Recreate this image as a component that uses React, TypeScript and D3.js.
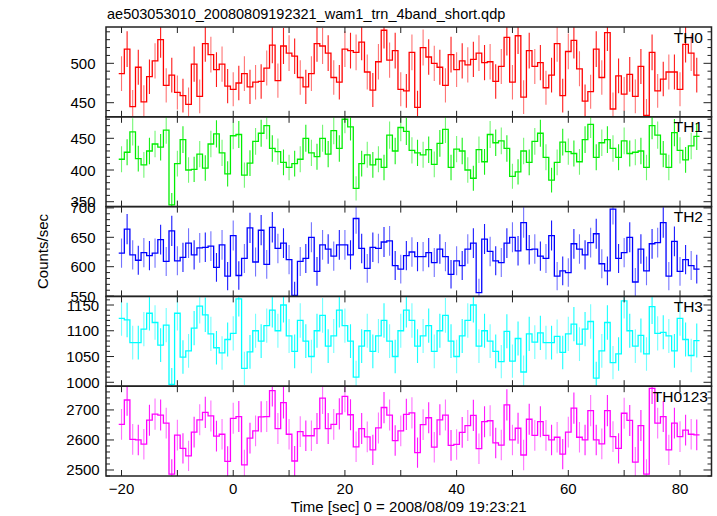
import React from "react";
import * as d3 from "d3";

const W = 717;
const H = 516;
const title = "ae503053010_20080809192321_wam1_trn_4band_short.qdp";
const xLabel = "Time [sec] 0 = 2008/08/09 19:23:21";
const yLabel = "Counts/sec";

// bin centers (1 s bins)
const binCenters = d3.range(-20, 84);
const binWidth = 1;

const bandNames = ["TH0", "TH1", "TH2", "TH3", "TH0123"];
const bandColors = ["#ff0000", "#00ee00", "#0000ff", "#00ffff", "#ff00ff"];

const th0 = [
  487, 518, 445, 495, 451, 483, 503, 530, 472, 485, 463, 459, 448, 499, 458, 525, 511, 492, 499, 471,
  467, 475, 487, 470, 476, 477, 494, 523, 478, 522, 513, 509, 482, 470, 487, 525, 522, 513, 482, 476,
  518, 516, 514, 527, 489, 466, 502, 542, 504, 516, 467, 465, 514, 444, 520, 508, 500, 495, 472, 511,
  492, 503, 498, 505, 513, 501, 502, 477, 496, 533, 476, 535, 457, 516, 496, 501, 469, 485, 525, 459,
  515, 529, 493, 452, 464, 518, 482, 539, 442, 484, 461, 486, 458, 496, 434, 514, 465, 480, 489, 489,
  467, 524, 513, 485,
];
const th1 = [
  417, 428, 460, 418, 408, 430, 441, 436, 463, 345, 410, 448, 400, 401, 425, 403, 441, 457, 427, 394,
  454, 456, 392, 411, 445, 458, 470, 434, 429, 412, 404, 410, 417, 450, 427, 421, 450, 425, 462, 434,
  480, 468, 371, 410, 424, 408, 417, 404, 455, 430, 467, 461, 431, 427, 424, 432, 409, 442, 464, 404,
  433, 430, 400, 387, 432, 413, 456, 443, 446, 434, 390, 397, 430, 412, 445, 458, 420, 384, 412, 444,
  429, 426, 413, 448, 472, 420, 443, 448, 434, 420, 446, 426, 428, 430, 404, 470, 455, 425, 404, 459,
  431, 416, 438, 453,
];
const th2 = [
  623, 664, 620, 611, 624, 619, 623, 646, 609, 661, 610, 616, 640, 620, 632, 633, 635, 599, 637, 584,
  653, 585, 614, 666, 608, 662, 604, 667, 631, 640, 612, 551, 609, 614, 650, 592, 637, 630, 618, 637,
  637, 620, 682, 631, 597, 633, 631, 642, 644, 602, 596, 619, 625, 617, 617, 624, 607, 630, 617, 587,
  610, 602, 630, 640, 556, 647, 626, 610, 607, 640, 650, 627, 675, 629, 630, 618, 614, 653, 584, 593,
  590, 639, 630, 620, 641, 656, 605, 593, 698, 614, 624, 650, 574, 630, 593, 639, 641, 675, 584, 643,
  592, 612, 602, 596,
];
const th3 = [
  1124, 1121, 1077, 1077, 1103, 1134, 1116, 1072, 1111, 996, 1134, 1049, 1061, 1105, 1148, 1131, 1094, 1067, 1057, 1083,
  1095, 1162, 1027, 1059, 1100, 1080, 1110, 1140, 1100, 1150, 1090, 1060, 1120, 1080, 1050, 1100, 1130, 1070, 1090, 1140,
  1110, 1080, 1010, 1070, 1100, 1060, 1090, 1120, 1080, 1050, 1100, 1140, 1120, 1070, 1090, 1110, 1060, 1100, 1130, 1080,
  1050, 1090, 1120, 1150, 1070, 1100, 1080, 1060, 1040, 1099, 1041, 1085, 1020, 1094, 1078, 1096, 1077, 1077, 1089, 1058,
  1094, 1113, 1074, 1103, 1118, 1008, 1061, 1116, 1038, 1055, 1158, 1100, 1070, 1091, 1055, 1147, 1095, 1097, 1090, 1061,
  1124, 1083, 1052, 1081,
];
const th0123 = [
  2652, 2733, 2602, 2600, 2586, 2666, 2686, 2683, 2656, 2486, 2616, 2572, 2547, 2626, 2667, 2692, 2680, 2613, 2619, 2529,
  2672, 2678, 2517, 2606, 2630, 2677, 2678, 2764, 2638, 2724, 2619, 2530, 2628, 2614, 2614, 2638, 2739, 2638, 2652, 2687,
  2745, 2684, 2577, 2638, 2610, 2567, 2640, 2708, 2683, 2598, 2630, 2685, 2690, 2558, 2651, 2674, 2576, 2667, 2683, 2582,
  2585, 2625, 2648, 2682, 2571, 2661, 2664, 2590, 2583, 2717, 2600, 2639, 2550, 2669, 2615, 2661, 2615, 2600, 2609, 2553,
  2626, 2706, 2609, 2600, 2698, 2600, 2587, 2698, 2611, 2572, 2689, 2665, 2526, 2648, 2486, 2772, 2656, 2678, 2567, 2656,
  2611, 2633, 2619, 2617,
];
const bandValues = [th0, th1, th2, th3, th0123];

const yDomains: [number, number][] = [
  [432.1, 546.1],
  [342.3, 483.9],
  [549.5, 702.2],
  [992.4, 1166.7],
  [2480, 2779],
];
const yMajorStep = [50, 50, 50, 50, 100];
const yMinorStep = [10, 10, 10, 10, 20];
const xDomain: [number, number] = [-22.78, 85.64];
const xTickValues = d3.range(-20, 81, 10);
const xLabelValues = [-20, 0, 20, 40, 60, 80];
const labelRight = [703, 703, 703, 703, 708];

const FONT = "'Liberation Sans', Arial, Helvetica, sans-serif";

export default function App() {
  const left = 106;
  const right = 711.5;
  const top = 27;
  const bottom = 476;
  const ph = (bottom - top) / bandNames.length;
  const x = d3.scaleLinear().domain(xDomain).range([left, right]);
  const frame = "#222";

  const panels = bandNames.map((name, i) => {
    const py0 = top + i * ph;
    const py1 = py0 + ph;
    const y = d3.scaleLinear().domain(yDomains[i]).range([py1, py0]);
    const vals = bandValues[i];
    const pts: [number, number][] = [];
    binCenters.forEach((t, k) => {
      pts.push([x(t - binWidth / 2), y(vals[k])]);
      pts.push([x(t + binWidth / 2), y(vals[k])]);
    });
    const stepPath = d3.line()(pts) || "";
    const [d0, d1] = yDomains[i];
    const minorTicks = d3.range(Math.ceil(d0 / yMinorStep[i]) * yMinorStep[i], d1, yMinorStep[i]);
    const majorTicks = minorTicks.filter((v) => Math.abs(v % yMajorStep[i]) < 1e-6);
    const color = bandColors[i];
    return (
      <g key={name}>
        <defs>
          <clipPath id={`clip${i}`}>
            <rect x={left} y={py0} width={right - left} height={ph} />
          </clipPath>
        </defs>
        <g clipPath={`url(#clip${i})`}>
          {binCenters.map((t, k) => {
            // Poisson error of a 1-s bin
            const e = Math.sqrt(vals[k]);
            return (
              <line
                key={k}
                x1={x(t)}
                x2={x(t)}
                y1={y(vals[k] - e)}
                y2={y(vals[k] + e)}
                stroke={color}
                strokeWidth={1.1}
                strokeOpacity={k % 2 === 0 ? 0.55 : 0.9}
              />
            );
          })}
          <path d={stepPath} fill="none" stroke={color} strokeWidth={1.3} />
        </g>
        {minorTicks.map((v) => {
          const major = majorTicks.includes(v);
          const len = major ? 8 : 4;
          return (
            <g key={v}>
              <line x1={left} x2={left + len} y1={y(v)} y2={y(v)} stroke={frame} strokeWidth={1} />
              <line x1={right} x2={right - len} y1={y(v)} y2={y(v)} stroke={frame} strokeWidth={1} />
            </g>
          );
        })}
        {majorTicks.map((v) => (
          <text
            key={"l" + v}
            x={83}
            y={y(v)}
            textAnchor="middle"
            dominantBaseline="central"
            fontSize={15}
            fontFamily={FONT}
            fill="#000"
          >
            {v}
          </text>
        ))}
        {xTickValues.map((t) => (
          <g key={"x" + t}>
            <line x1={x(t)} x2={x(t)} y1={py0} y2={py0 + 6} stroke={frame} strokeWidth={1} />
            <line x1={x(t)} x2={x(t)} y1={py1} y2={py1 - 6} stroke={frame} strokeWidth={1} />
          </g>
        ))}
        <rect x={left} y={py0} width={right - left} height={ph} fill="none" stroke={frame} strokeWidth={1.5} />
        <text
          x={labelRight[i]}
          y={py0 + 15.5}
          textAnchor="end"
          fontSize={15.5}
          fontFamily={FONT}
          fill="#000"
        >
          {name}
        </text>
      </g>
    );
  });

  return (
    <svg
      width={W}
      height={H}
      style={{ position: "absolute", left: 0, top: 0, background: "#fff" }}
    >
      <rect x={0} y={0} width={W} height={H} fill="#fff" />
      <text x={107} y={19} fontSize={14.5} fontFamily={FONT} fill="#000">
        {title}
      </text>
      {panels}
      {xLabelValues.map((t) => (
        <text
          key={"xl" + t}
          x={x(t)}
          y={494}
          textAnchor="middle"
          fontSize={15}
          fontFamily={FONT}
          fill="#000"
        >
          {t < 0 ? "\u2212" + Math.abs(t) : String(t)}
        </text>
      ))}
      <text
        x={(left + right) / 2}
        y={512}
        textAnchor="middle"
        fontSize={15}
        fontFamily={FONT}
        fill="#000"
      >
        {xLabel}
      </text>
      <text
        transform={`translate(42,${(top + bottom) / 2}) rotate(-90)`}
        textAnchor="middle"
        dominantBaseline="central"
        fontSize={15}
        fontFamily={FONT}
        fill="#000"
      >
        {yLabel}
      </text>
    </svg>
  );
}
